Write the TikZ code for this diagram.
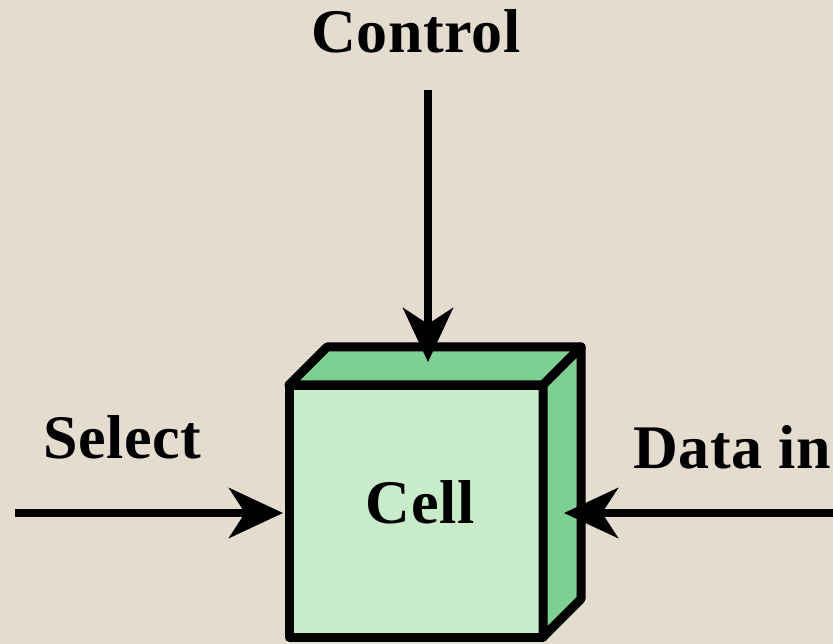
\documentclass[tikz,border=0pt]{standalone}
\usepackage{fontspec}
\setmainfont{Liberation Serif}[LetterSpace=1]
\usetikzlibrary{arrows.meta,calc}
\definecolor{bg}{RGB}{228,220,207}
\definecolor{frontgreen}{RGB}{200,235,201}
\definecolor{sidegreen}{RGB}{125,208,145}
\tikzset{
  lbl/.style={font=\fontsize{62}{70}\selectfont\bfseries, inner sep=0pt},
  face/.style={draw=black, line width=9pt, line join=round},
  sig/.style={draw=black, line width=8pt, -{Stealth[length=54pt,width=50pt,inset=16pt]}},
}
\begin{document}
\begin{tikzpicture}[x=1pt,y=-1pt]
\fill[bg] (0,0) rectangle (833,644);
\useasboundingbox (0,0) rectangle (833,644);
% front face
\node[face, fill=frontgreen, rectangle, minimum width=254pt, minimum height=252pt, inner sep=0pt, outer sep=0pt] (cell) at (416,511) {};
% top and side faces
\filldraw[face, fill=sidegreen] (cell.north west) -- ++(38,-38) -- ($(cell.north east)+(38,-38)$) -- (cell.north east) -- cycle;
\filldraw[face, fill=sidegreen] (cell.north east) -- ++(38,-38) -- ($(cell.south east)+(38,-38)$) -- (cell.south east) -- cycle;
\node[lbl, anchor=base] (celltxt) at (420,523) {Cell};
% labels
\node[lbl, anchor=base] (control) at (416,53) {Control};
\node[lbl, anchor=base west] (select) at (43,458) {Select};
\node[lbl, anchor=base west] (datain) at (633,468) {Data in};
% connector ends
\coordinate (cstart) at (428,90);
\coordinate (ctip) at (428,362);
\coordinate (sstart) at (15,513);
\coordinate (stip) at (283,513);
\coordinate (dstart) at (833,513);
\coordinate (dtip) at (564,513);
\path[sig] (cstart) -- (ctip);
\path[sig] (sstart) -- (stip);
\path[sig] (dstart) -- (dtip);
\end{tikzpicture}
\end{document}
